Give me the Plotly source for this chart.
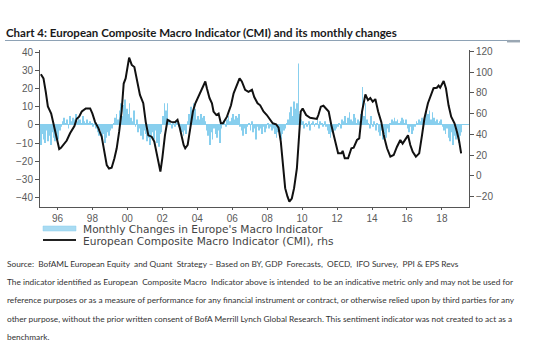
import plotly.graph_objects as go

# ---------------- data ----------------
bar_start_year = 1995  # monthly bars from Jan 1995
monthly_changes = [
    -11, -5, -8, -10, -3, -9, -6, -11, -4, -7, -9, -5,   # 1995
    -8, -3, -1, 2, 4, 1, 3, -2, 5, 2, 4, 3,              # 1996
    6, 2, 4, 3, 1, 5, 2, 1, 3, 1, 2, 1,                  # 1997
    -1, 1, -2, -4, -6, -3, -8, -5, -10, -7, -4, -6,      # 1998
    -3, -2, 1, 4, 6, 3, 8, 12, 5, 11, 14, 9,             # 1999
    6, 12, 4, 2, 8, -1, 3, -4, -2, -6, -8, -3,           # 2000
    -5, -9, -7, -11, -6, -4, -8, -3, -10, -12, -5, -4,   # 2001
    5, 12, 8, 12, 3, 1, -2, 1, -1, 2, 1, -1,             # 2002
    -2, -4, -6, -3, -5, 2, 6, 10, 4, 12, 9, 3,           # 2003
    5, 3, 6, 4, 5, 2, -3, -6, -11, -4, -8, -2,           # 2004
    -5, -7, -3, -10, -2, 1, 2, -1, 3, 5, 2, 4,           # 2005
    6, 3, 5, 4, 6, -1, -3, -6, -2, -5, -1, 1,            # 2006
    -3, 2, -4, -2, -8, -1, -3, -2, -5, -1, -4, -2,       # 2007
    1, -2, -1, -3, -2, -5, -7, -4, -6, -8, -5, -3,       # 2008
    -2, 1, 3, 7, 10, 5, 13, 9, 12, 34, 6, 3,             # 2009
    2, -2, 1, -1, 2, -3, 1, 2, -1, 1, 3, -2,             # 2010
    2, 1, -1, 2, -1, -3, -5, -7, -4, -6, -3, -2,         # 2011
    -1, 1, -2, 3, 2, 5, 1, 4, 7, 3, 2, 6,                # 2012
    4, 1, 3, 2, 6, 21, 5, 12, 3, 1, -2, 5,               # 2013
    -1, 2, -3, 1, -4, -6, -3, -8, -5, -7, -2, -4,        # 2014
    1, 3, 2, 4, 2, 3, 1, 2, 4, 3, 1, 3,                  # 2015
    -2, -4, -1, -5, -3, -1, 2, 1, 3, 2, 4, 3,            # 2016
    5, 9, 6, 8, 3, 7, 4, 2, 3, 1, 2, 3,                  # 2017
    -1, -3, -5, -2, -7, -9, -4, -11, -6, -8, -3, -10,    # 2018
    -6, -4,                                              # 2019
]
bar_x = [bar_start_year + (i + 0.5) / 12 for i in range(len(monthly_changes))]

cmi_x = [
    1995.05, 1995.2, 1995.33, 1995.45, 1995.64, 1995.83, 1995.96, 1996.1, 1996.2, 1996.4,
    1996.53, 1996.72, 1996.97, 1997.1, 1997.24, 1997.39, 1997.62, 1997.87, 1998.0, 1998.15,
    1998.34, 1998.53, 1998.69, 1998.82, 1998.95, 1999.1, 1999.26, 1999.39, 1999.53, 1999.67,
    1999.79, 1999.9, 2000.1, 2000.25, 2000.4, 2000.53, 2000.72, 2000.91, 2001.05, 2001.2,
    2001.39, 2001.54, 2001.67, 2001.81, 2001.89, 2002.0, 2002.15, 2002.3, 2002.5, 2002.72,
    2002.87, 2003.0, 2003.14, 2003.22, 2003.31, 2003.45, 2003.6, 2003.75, 2003.89, 2004.02,
    2004.17, 2004.32, 2004.46, 2004.55, 2004.7, 2004.84, 2004.93, 2005.09, 2005.22, 2005.35,
    2005.47, 2005.7, 2005.93, 2006.08, 2006.23, 2006.42, 2006.55, 2006.74, 2006.93, 2007.13,
    2007.26, 2007.45, 2007.6, 2007.79, 2007.98, 2008.13, 2008.32, 2008.51, 2008.65, 2008.78,
    2008.9, 2009.03, 2009.16, 2009.27, 2009.41, 2009.54, 2009.7, 2009.81, 2009.92, 2010.03,
    2010.23, 2010.46, 2010.69, 2010.84, 2010.93, 2011.07, 2011.22, 2011.37, 2011.52, 2011.67,
    2011.87, 2012.06, 2012.25, 2012.32, 2012.44, 2012.63, 2012.82, 2012.95, 2013.14, 2013.27,
    2013.43, 2013.62, 2013.77, 2013.9, 2014.04, 2014.19, 2014.35, 2014.53, 2014.67, 2014.86,
    2015.05, 2015.24, 2015.43, 2015.62, 2015.75, 2015.9, 2016.06, 2016.19, 2016.33, 2016.51,
    2016.7, 2016.86, 2017.0, 2017.2, 2017.39, 2017.52, 2017.71, 2017.81, 2017.9, 2018.1,
    2018.23, 2018.38, 2018.53, 2018.72, 2018.86, 2018.99, 2019.1,
]
cmi_values = [
    98, 94, 81, 67, 60, 46, 34.5, 25.8, 27, 31,
    34, 41, 48, 55, 57, 62, 65, 65, 60, 52,
    46, 37.7, 20, 10.3, 7, 7.7, 16.8, 26.5, 42.5, 62,
    89, 94, 114, 107, 105, 94, 78, 70, 52, 39,
    37.7, 33, 23, 10.3, 4, 17, 39, 54, 52, 51.6,
    54, 46, 36, 29.7, 26.5, 29.7, 46, 62, 70, 75,
    79.6, 86, 91, 84.5, 75, 70, 62, 58.6, 60, 50.6,
    50.6, 57, 68, 79.6, 86, 94, 91, 83, 81, 83,
    76, 70, 68, 62, 58.6, 54.8, 50.6, 49.7, 46.4, 33,
    10.3, -12, -20, -25, -22, -12, 7, 39, 62, 65,
    58.6, 56, 55.5, 54.8, 58.6, 66.7, 67.6, 65, 62, 49,
    36, 21.6, 21.6, 24, 16.8, 16.8, 26.5, 27, 34.5, 36,
    62, 78.6, 73, 75, 71.5, 74, 62, 52, 39, 26.5,
    18.4, 20, 28, 34.5, 31, 34.5, 39, 29.7, 23, 18.4,
    21.6, 39, 55.5, 70, 79.6, 84.5, 85, 87, 85, 91.5,
    84.5, 68, 57, 50.6, 42.5, 33, 21.6,
]

x_tick_years = [1996, 1998, 2000, 2002, 2004, 2006, 2008, 2010, 2012, 2014, 2016, 2018]
x_tick_labels = ["96", "98", "00", "02", "04", "06", "08", "10", "12", "14", "16", "18"]
left_ticks = [-40, -30, -20, -10, 0, 10, 20, 30, 40]
right_ticks = [-20, 0, 20, 40, 60, 80, 100, 120]

title_text = "Chart 4: European Composite Macro Indicator (CMI) and its monthly changes"
legend_labels = ["Monthly Changes in Europe's Macro Indicator",
                 "European Composite Macro Indicator (CMI), rhs"]
source_lines = [
    "Source:  BofAML European Equity  and Quant  Strategy \u2013 Based on BY, GDP  Forecasts,  OECD,  IFO Survey,  PPI & EPS Revs",
    "The indicator identified as European  Composite Macro  Indicator above is intended  to be an indicative metric only and may not be used for",
    "reference purposes or as a measure of performance for any financial instrument or contract, or otherwise relied upon by third parties for any",
    "other purpose, without the prior written consent of BofA Merrill Lynch Global Research. This sentiment indicator was not created to act as a",
    "benchmark.",
]

# ---------------- figure ----------------
BAR_COL = "#88cfee"
AX_COL = "#555555"
TICK_FONT = dict(family="Liberation Sans, Arial, sans-serif", size=10, color="#5a5a5a")
NARROW = "Lato, Liberation Sans, sans-serif"
LEG_FONT = dict(family="DejaVu Sans, Verdana, sans-serif", size=10.6, color="#444444")

fig = go.Figure()
fig.add_trace(go.Bar(x=bar_x, y=monthly_changes, marker=dict(color=BAR_COL, line=dict(width=0)),
                     name=legend_labels[0], yaxis="y", showlegend=False))
fig.add_trace(go.Scatter(x=cmi_x, y=cmi_values, mode="lines", line=dict(color="#111111", width=2),
                         name=legend_labels[1], yaxis="y2", showlegend=False))

W, H = 560, 356
L, R, T, B = 40, 469, 50, 207


def px(xp):
    return (xp - L) / (R - L)


def py(yp):
    return (B - yp) / (B - T)


annotations = [
    dict(text=f"<b>{title_text}</b>", x=px(4), y=py(32), xref="paper", yref="paper",
         xanchor="left", yanchor="middle", showarrow=False,
         font=dict(family=NARROW, size=11.5, color="#1a1a1a")),
    dict(text=legend_labels[0], x=px(81), y=py(228.5), xref="paper", yref="paper",
         xanchor="left", yanchor="middle", showarrow=False, font=LEG_FONT),
    dict(text=legend_labels[1], x=px(81), y=py(240.5), xref="paper", yref="paper",
         xanchor="left", yanchor="middle", showarrow=False, font=LEG_FONT),
]
src_y = [264, 282, 300, 319, 337]
for line, yy in zip(source_lines, src_y):
    annotations.append(dict(text=line, x=px(5), y=py(yy), xref="paper", yref="paper",
                            xanchor="left", yanchor="middle", showarrow=False,
                            font=dict(family=NARROW, size=8.3, color="#333333")))

shapes = [
    dict(type="line", xref="paper", yref="paper", x0=px(5), x1=px(520), y0=py(40.5), y1=py(40.5),
         line=dict(color="#8ea2b5", width=1)),
    dict(type="line", xref="paper", yref="paper", x0=px(507), x1=px(520), y0=py(41.2), y1=py(41.2),
         line=dict(color="#9aa7b3", width=2.5)),
    dict(type="rect", xref="paper", yref="paper", x0=px(43), x1=px(76), y0=py(231), y1=py(226),
         fillcolor="#a9dbf2", line=dict(color=BAR_COL, width=0.5)),
    dict(type="line", xref="paper", yref="paper", x0=px(43), x1=px(76), y0=py(240), y1=py(240),
         line=dict(color="#222222", width=2)),
]

fig.update_layout(
    width=W, height=H,
    margin=dict(l=L, r=W - R, t=T, b=H - B),
    paper_bgcolor="white", plot_bgcolor="white",
    bargap=0.5,
    xaxis=dict(range=[1995.0, 2019.55], tickvals=x_tick_years, ticktext=x_tick_labels,
               showgrid=False, zeroline=False, showline=True, linecolor=AX_COL, linewidth=1,
               ticks="outside", ticklen=2, tickcolor=AX_COL, tickfont=TICK_FONT),
    yaxis=dict(range=[-45.3, 41.4], tickvals=left_ticks, showgrid=False,
               zeroline=True, zerolinecolor=BAR_COL, zerolinewidth=1,
               showline=True, linecolor=AX_COL, linewidth=1,
               ticks="outside", ticklen=4, tickcolor=AX_COL, tickfont=TICK_FONT),
    yaxis2=dict(range=[-30.2, 121.4], tickvals=right_ticks, overlaying="y", side="right",
                showgrid=False, zeroline=False, showline=True, linecolor=AX_COL, linewidth=1,
                ticks="outside", ticklen=4, tickcolor=AX_COL, tickfont=TICK_FONT),
    annotations=annotations,
    shapes=shapes,
    showlegend=False,
)

fig.write_html("out.html", config={"displayModeBar": False},
               post_script="document.body.style.margin='0';document.body.style.padding='0';")
